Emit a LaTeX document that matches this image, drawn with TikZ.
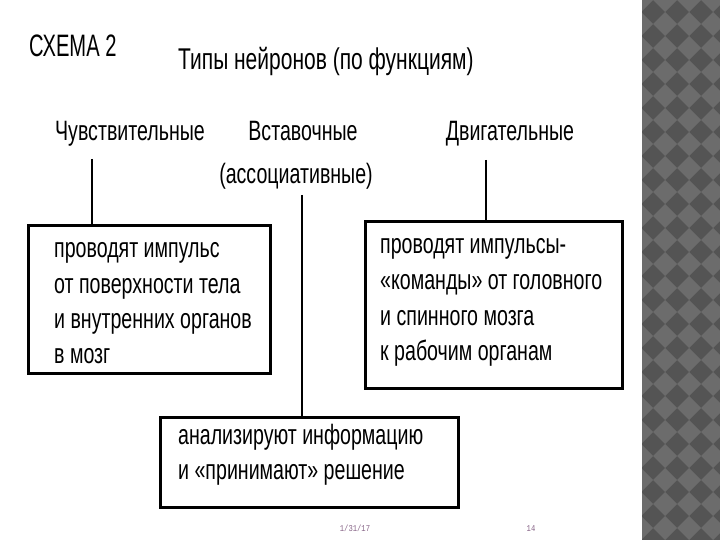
\documentclass[tikz,border=0pt]{standalone}
\usepackage{fontspec}
\setmainfont{Liberation Sans}[FakeStretch=0.7]
\newfontfamily\narrowfont{Liberation Sans}[FakeStretch=0.65]
\newfontfamily\footfont{Liberation Mono}[FakeStretch=0.8]
\definecolor{stripdark}{RGB}{84,84,84}
\definecolor{striplight}{RGB}{108,108,108}
\definecolor{footcol}{RGB}{135,100,135}
\tikzset{
  bx/.style={draw=black, line width=3pt, rectangle, inner sep=0pt},
  conn/.style={draw=black, line width=2.5pt},
  hdr/.style={font=\fontsize{28}{32}\selectfont, inner sep=0pt, anchor=base},
  bline/.style={font=\fontsize{28}{32}\selectfont, inner sep=0pt, anchor=base west},
  foot/.style={font=\footfont\fontsize{9}{11}\selectfont, text=footcol, inner sep=0pt, anchor=base}
}
\begin{document}
\begin{tikzpicture}[x=1pt,y=-1pt]
\useasboundingbox (0,0) rectangle (720,540);
\fill[white] (0,0) rectangle (720,540);
% patterned strip
\begin{scope}
\clip (642,0) rectangle (720,540);
\fill[stripdark] (642,0) rectangle (720,540);
\foreach \i in {0,...,4}{
  \foreach \j in {0,...,23}{
    \fill[striplight] ({641+24*\i},{24*\j}) +(-12,0) -- +(0,-12) -- +(12,0) -- +(0,12) -- cycle;
  }
}
\end{scope}
% titles
\node[font=\narrowfont\fontsize{31}{36}\selectfont, inner sep=0pt, anchor=base west] (schema) at (29,57) {СХЕМА 2};
\node[font=\fontsize{30}{34}\selectfont, inner sep=0pt, anchor=base west] (title) at (178,70) {Типы нейронов (по функциям)};
% headers
\node[hdr] (h1) at (130,141) {Чувствительные};
\node[hdr] (h2) at (303,141) {Вставочные};
\node[hdr] (h2b) at (296,184) {(ассоциативные)};
\node[hdr] (h3) at (510,141) {Двигательные};
% boxes
\node[bx, minimum width=242pt, minimum height=147pt] (b1) at (149,299.5) {};
\node[bx, minimum width=257pt, minimum height=166pt] (b2) at (493.5,305) {};
\node[bx, minimum width=298pt, minimum height=90pt] (b3) at (309,462) {};
% box texts
\node[bline] (t11) at (54,257) {проводят импульс};
\node[bline] (t12) at (54,293) {от поверхности тела};
\node[bline] (t13) at (54,328) {и внутренних органов};
\node[bline] (t14) at (54,363) {в мозг};
\node[bline] (t21) at (380,253) {проводят импульсы-};
\node[bline] (t22) at (380,289) {«команды» от головного};
\node[bline] (t23) at (380,325) {и спинного мозга};
\node[bline] (t24) at (380,360) {к рабочим органам};
\node[bline] (t31) at (178,444) {анализируют информацию};
\node[bline] (t32) at (178,479) {и «принимают» решение};
% connectors
\coordinate (c1) at (92,159);
\coordinate (c2) at (302,195);
\coordinate (c3) at (486,160);
\draw[conn] (c1) -- (c1 |- b1.north);
\draw[conn] (c2) -- (c2 |- b3.north);
\draw[conn] (c3) -- (c3 |- b2.north);
% footer
\node[foot] (date) at (355,531) {1/31/17};
\node[foot] (page) at (531,531) {14};
\end{tikzpicture}
\end{document}
